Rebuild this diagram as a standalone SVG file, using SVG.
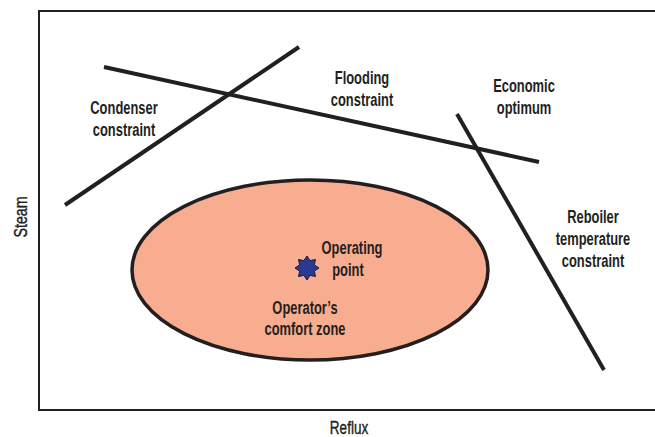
<svg xmlns="http://www.w3.org/2000/svg" width="655" height="437" viewBox="0 0 655 437">
  <style>
    .lbl { font-family: "Liberation Sans", Arial, sans-serif; font-weight: bold; font-size: 19px; fill: #231f20; text-anchor: middle; }
    .axis { font-family: "Liberation Sans", Arial, sans-serif; font-size: 18.5px; fill: #231f20; stroke: #231f20; stroke-width: 0.4; text-anchor: middle; }
    .con { stroke: #231f20; stroke-width: 4; fill: none; }
  </style>
  <rect width="655" height="437" fill="#ffffff"/>

  <!-- plot frame (right side runs off the canvas) -->
  <path d="M 670 11 L 39 11 L 39 410 L 670 410" fill="none" stroke="#231f20" stroke-width="2"/>

  <!-- comfort zone -->
  <g id="comfort-zone">
    <ellipse cx="310" cy="270" rx="178" ry="90" fill="#f9ad90" stroke="#231f20" stroke-width="3.5"/>
    <text class="lbl" transform="translate(305 314) scale(0.68 1)">Operator’s</text>
    <text class="lbl" transform="translate(305 335) scale(0.68 1)">comfort zone</text>
  </g>

  <!-- operating point -->
  <g id="operating-point">
    <polygon fill="#2b3991" stroke="#1a1a40" stroke-width="1"
      points="307,256 310.1,260.6 315.5,259.5 314.4,264.9 319,268 314.4,271.1 315.5,276.5 310.1,275.4 307,280 303.9,275.4 298.5,276.5 299.6,271.1 295,268 299.6,264.9 298.5,259.5 303.9,260.6"/>
    <text class="lbl" transform="translate(352 254) scale(0.68 1)">Operating</text>
    <text class="lbl" transform="translate(348 276) scale(0.68 1)">point</text>
  </g>

  <!-- constraint lines -->
  <g id="connectors">
    <line class="con" x1="65" y1="205" x2="299" y2="47"/>
    <line class="con" x1="104" y1="67" x2="539" y2="162"/>
    <line class="con" x1="457" y1="114" x2="604" y2="370"/>
  </g>

  <g id="condenser">
    <text class="lbl" transform="translate(124 114) scale(0.68 1)">Condenser</text>
    <text class="lbl" transform="translate(124 136) scale(0.68 1)">constraint</text>
  </g>
  <g id="flooding">
    <text class="lbl" transform="translate(362 84) scale(0.68 1)">Flooding</text>
    <text class="lbl" transform="translate(362 106) scale(0.68 1)">constraint</text>
  </g>
  <g id="economic">
    <text class="lbl" transform="translate(524 92) scale(0.68 1)">Economic</text>
    <text class="lbl" transform="translate(524 114) scale(0.68 1)">optimum</text>
  </g>
  <g id="reboiler">
    <text class="lbl" transform="translate(593 223) scale(0.68 1)">Reboiler</text>
    <text class="lbl" transform="translate(593 245) scale(0.68 1)">temperature</text>
    <text class="lbl" transform="translate(593 267) scale(0.68 1)">constraint</text>
  </g>

  <!-- axis titles -->
  <text class="axis" transform="translate(349 434) scale(0.73 1)">Reflux</text>
  <text class="axis" transform="translate(27 217) rotate(-90) scale(0.77 1)">Steam</text>
</svg>
